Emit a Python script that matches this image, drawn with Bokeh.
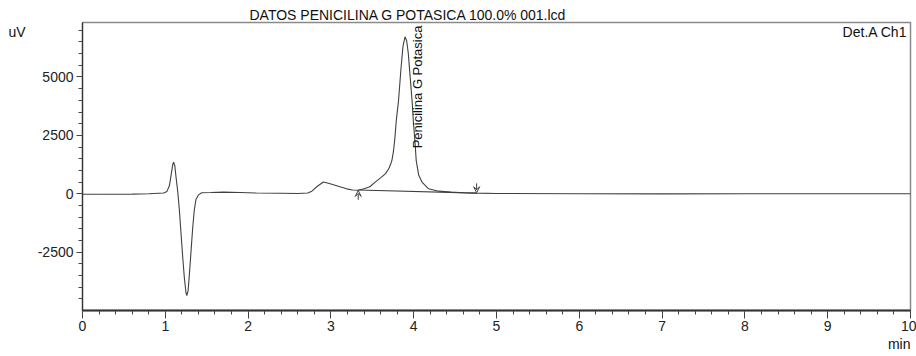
from bokeh.plotting import figure
from bokeh.models import Range1d, FixedTicker, Label, Arrow, VeeHead, Title, LinearAxis
from bokeh.embed import file_html
from bokeh.resources import INLINE

# ---- data ----
time_min = [0.00, 0.20, 0.40, 0.60, 0.80, 0.98, 1.02, 1.05, 1.07, 1.09, 1.10, 1.115, 1.13,
            1.15, 1.17, 1.19, 1.21, 1.23, 1.25, 1.26, 1.275, 1.29, 1.31, 1.33, 1.35, 1.37,
            1.40, 1.44, 1.55, 1.70, 1.90, 2.10, 2.40, 2.60, 2.72, 2.77, 2.84, 2.91, 2.98,
            3.08, 3.19, 3.26, 3.33, 3.40, 3.47, 3.535, 3.60, 3.66, 3.70, 3.72, 3.737, 3.755,
            3.77, 3.79, 3.817, 3.845, 3.87, 3.895, 3.915, 3.935, 3.955, 3.98, 3.995, 4.02,
            4.03, 4.06, 4.10, 4.18, 4.30, 4.45, 4.60, 4.76, 5.00, 6.00, 7.00, 8.00, 9.00, 10.00]
signal_uv = [-20, -25, -25, -15, 0, 30, 100, 350, 800, 1250, 1355, 1200, 700,
             100, -700, -1700, -2700, -3600, -4250, -4360, -4150, -3500, -2500, -1500, -700, -250,
             -50, 40, 50, 70, 50, 30, 20, 10, 30, 110, 330, 500, 440,
             330, 210, 160, 150, 210, 300, 500, 680, 860, 1080, 1250, 1430, 1800,
             2280, 3140, 4000, 5300, 6300, 6720, 6550, 6000, 5100, 4000, 3150, 2000,
             1430, 800, 500, 210, 110, 70, 45, 25, 10, 0, -5, 0, 0, 0]

baseline_t = [3.33, 4.76]
baseline_v = [160, 25]

peak_name = "Penicilina G Potasica"
peak_label_t = 4.042
peak_label_v = 1943

y_major = [-2500, 0, 2500, 5000]
y_minor = [v for v in range(-4500, 7500, 500)]
x_major = [0, 1, 2, 3, 4, 5, 6, 7, 8, 9, 10]
x_minor = [round(i * 0.2, 1) for i in range(0, 51)]

title_text = "DATOS PENICILINA G POTASICA 100.0% 001.lcd"
y_unit = "uV"
y_unit_at = 6917
x_unit = "min"
detector = "Det.A Ch1"

FONT = "Liberation Sans"
INK = "#404040"

p = figure(width=916, height=356, output_backend="svg", toolbar_location=None,
           x_range=Range1d(0, 10), y_range=Range1d(-5000, 7333),
           min_border_left=82, min_border_right=6, min_border_top=22, min_border_bottom=46)
p.xgrid.visible = False
p.ygrid.visible = False
p.outline_line_color = "#8a8a8a"
p.outline_line_width = 1.5
p.background_fill_color = "white"
p.border_fill_color = "white"

p.add_layout(Title(text=title_text, align="left", offset=167, standoff=0,
                   text_font=FONT, text_font_size="14px", text_font_style="normal",
                   text_color="#111111"), "above")

p.line(time_min, signal_uv, line_color=INK, line_width=1.1)
p.line(baseline_t, baseline_v, line_color=INK, line_width=1.1)

# integration markers
p.add_layout(Arrow(end=VeeHead(size=6, line_width=1, line_color=INK, fill_color=None),
                   x_start=baseline_t[0], y_start=baseline_v[0] - 420,
                   x_end=baseline_t[0], y_end=baseline_v[0] - 20,
                   line_width=1, line_color=INK))
p.add_layout(Arrow(end=VeeHead(size=6, line_width=1, line_color=INK, fill_color=None),
                   x_start=baseline_t[1], y_start=baseline_v[1] + 420,
                   x_end=baseline_t[1], y_end=baseline_v[1] + 20,
                   line_width=1, line_color=INK))

# axes
for ax in (p.xaxis, p.yaxis):
    ax.axis_line_color = "#333333"
    ax.major_tick_line_color = "#444444"
    ax.minor_tick_line_color = "#444444"
    ax.major_label_text_font = FONT
    ax.major_label_text_font_size = "14px"
    ax.major_label_text_color = "#222222"

p.xaxis.axis_line_width = 1.8
p.xaxis.ticker = FixedTicker(ticks=x_major, minor_ticks=x_minor)
p.xaxis.major_tick_in = 0
p.xaxis.major_tick_out = 8
p.xaxis.minor_tick_in = 0
p.xaxis.minor_tick_out = 4
p.xaxis.major_label_standoff = 2

p.yaxis.axis_line_width = 1.2
p.yaxis.ticker = FixedTicker(ticks=y_major, minor_ticks=y_minor)
p.yaxis.major_label_overrides = {-2500: "-2500"}
p.yaxis.major_tick_in = 0
p.yaxis.major_tick_out = 6
p.yaxis.minor_tick_in = 0
p.yaxis.minor_tick_out = 4
p.yaxis.major_label_standoff = 3

# unit label of the y axis, drawn as the single tick label of an extra (bare) axis
unit_axis = LinearAxis(ticker=FixedTicker(ticks=[y_unit_at], minor_ticks=[]),
                       major_label_overrides={y_unit_at: y_unit},
                       axis_line_color=None, major_tick_line_color=None,
                       minor_tick_line_color=None, major_tick_in=0, major_tick_out=0,
                       major_label_standoff=9, major_label_text_font=FONT,
                       major_label_text_font_size="14px", major_label_text_color="#111111")
p.add_layout(unit_axis, "left")

# unit label of the x axis
p.add_layout(Title(text=x_unit, align="right", offset=0, standoff=0,
                   text_font=FONT, text_font_size="14px", text_font_style="normal",
                   text_color="#111111"), "below")

# texts inside the frame
def lab(text, x, y, align="left", baseline="middle", angle=0, size="14px"):
    p.add_layout(Label(x=x, y=y, text=text, text_align=align, text_baseline=baseline,
                       angle=angle, angle_units="deg", text_font=FONT,
                       text_font_size=size, text_color="#111111"))

lab(detector, 9.96, 6930, align="right")
lab(peak_name, peak_label_t, peak_label_v, angle=90, size="13px")

open("out.html", "w").write(file_html(p, INLINE))
